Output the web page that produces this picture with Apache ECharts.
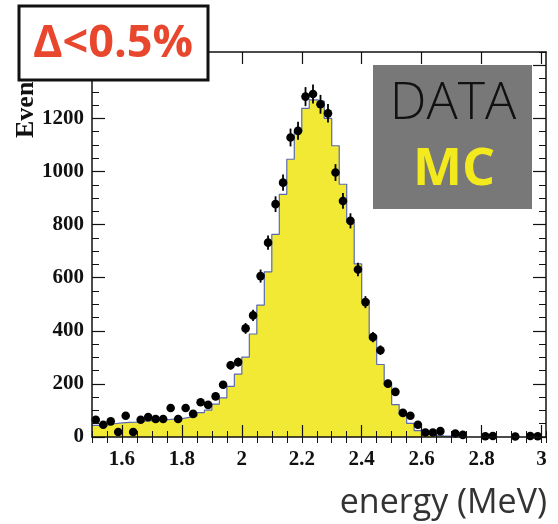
<!DOCTYPE html>
<html><head><meta charset="utf-8">
<script src="https://cdn.jsdelivr.net/npm/echarts@6/dist/echarts.min.js"></script>
<style>html,body{margin:0;padding:0;background:#fff}#c{width:558px;height:524px}</style>
</head><body><div id="c"></div>
<script>
// ---- data ----
const binStart = 1.5;
const binWidth = 0.025;
const mcCounts = [44,45,50,53,55,56,60,62,63,65,67,69,74,79,92,101,124,147,191,237,301,388,497,622,763,914,1046,1150,1238,1270,1265,1200,1097,952,808,652,515,383,273,196,122,84,51,24,10,6,4,3,0,0,0,0,0,0,0,0,0,0,0,0];
const dataCounts = [65,46,59,19,80,19,65,75,68,68,109,68,109,87,131,121,153,197,270,282,409,458,606,732,877,958,1128,1153,1282,1292,1253,1219,996,889,814,631,508,376,327,201,170,91,80,46,17,17,22,null,13,8,null,null,3,4,null,null,2,null,4,3];
const xTickValues = [1.6,1.8,2.0,2.2,2.4,2.6,2.8,3.0];
const yTickValues = [0,200,400,600,800,1000,1200,1400];
const xMin = 1.5, xMax = 3.015, yMin = 0, yMax = 1450;

// ---- build series data ----
let last = mcCounts.length - 1;
while (last > 0 && mcCounts[last] === 0) last--;
const histLine = [];
for (let i = 0; i <= last; i++) histLine.push([binStart + i * binWidth, mcCounts[i]]);
histLine.push([binStart + (last + 1) * binWidth, mcCounts[last]]);
histLine.push([binStart + (last + 1) * binWidth, 0]);

const points = [];
dataCounts.forEach((v, i) => { if (v !== null) points.push([binStart + (i + 0.5) * binWidth, v]); });

const labelFont = {fontFamily: 'Liberation Serif', fontWeight: 'bold', fontSize: 21, color: '#111'};
const axLine = {show: true, onZero: false, lineStyle: {color: '#111', width: 1.5}};

function xAx(pos, major, withLabels) {
  const a = {type: 'value', position: pos, min: xMin, max: xMax, z: 10,
    axisLine: axLine, splitLine: {show: false}};
  if (major) {
    a.axisTick = {show: true, inside: true, length: 12, lineStyle: {color: '#111', width: 1.2}, customValues: xTickValues};
    a.axisLabel = withLabels ? Object.assign({show: true, margin: 12, customValues: xTickValues,
      formatter: v => String(+v.toFixed(1))}, labelFont) : {show: false};
  } else {
    a.interval = 0.05;
    a.axisLine = {show: false};
    a.axisTick = {show: true, inside: true, length: 6, lineStyle: {color: '#111', width: 1}};
    a.axisLabel = {show: false};
  }
  return a;
}
function yAx(pos, major, withLabels) {
  const a = {type: 'value', position: pos, min: yMin, max: yMax, z: 10,
    axisLine: axLine, splitLine: {show: false}};
  if (major) {
    a.axisTick = {show: true, inside: true, length: 13, lineStyle: {color: '#111', width: 1.2}, customValues: yTickValues};
    a.axisLabel = withLabels ? Object.assign({show: true, margin: 8, customValues: yTickValues,
      formatter: v => String(Math.round(v))}, labelFont) : {show: false};
  } else {
    a.interval = 50;
    a.axisLine = {show: false};
    a.axisTick = {show: true, inside: true, length: 7, lineStyle: {color: '#111', width: 1}};
    a.axisLabel = {show: false};
  }
  return a;
}

const chart = echarts.init(document.getElementById('c'), null, {renderer: 'canvas'});
chart.setOption({
  animation: false,
  backgroundColor: '#fff',
  grid: {left: 92, right: 12, top: 52, bottom: 87},
  xAxis: [xAx('bottom', true, true), xAx('top', true, false), xAx('bottom', false), xAx('top', false)],
  yAxis: [yAx('left', true, true), yAx('right', true, false), yAx('left', false), yAx('right', false)],
  series: [
    {type: 'line', data: histLine, step: 'end', symbol: 'none', xAxisIndex: 0, yAxisIndex: 0,
     lineStyle: {color: '#5a6ab0', width: 1.2},
     areaStyle: {color: '#f1e934', opacity: 1}, z: 2},
    {type: 'custom', data: points, xAxisIndex: 0, yAxisIndex: 0, z: 3,
     encode: {x: 0, y: 1},
     renderItem: function (params, api) {
       const x = api.value(0), y = api.value(1), e = Math.sqrt(y);
       const c = api.coord([x, y]);
       const t = api.coord([x, y + e]);
       const b = api.coord([x, Math.max(0, y - e)]);
       return {type: 'group', children: [
         {type: 'line', shape: {x1: c[0], y1: t[1], x2: c[0], y2: b[1]}, style: {stroke: '#000', lineWidth: 1.8}},
         {type: 'circle', shape: {cx: c[0], cy: c[1], r: 4.3}, style: {fill: '#000'}}
       ]};
     }}
  ],
  graphic: [
    {type: 'text', x: 26, y: 138, rotation: Math.PI / 2, z: 1,
     style: {text: 'Events', font: 'bold 26px "Liberation Serif"', fill: '#111', textAlign: 'left', textVerticalAlign: 'middle'}},
    {type: 'rect', shape: {x: 19, y: 6, width: 189, height: 74}, z: 100,
     style: {fill: '#fff', stroke: '#111', lineWidth: 3}},
    {type: 'text', x: 113, y: 44, z: 101,
     style: {text: 'Δ<0.5%', font: 'bold 45px "Open Sans"', fill: '#e8462d', textAlign: 'center', textVerticalAlign: 'middle'}},
    {type: 'rect', shape: {x: 373, y: 65, width: 159, height: 144}, z: 100,
     style: {fill: '#787878'}},
    {type: 'text', x: 453, y: 104, z: 101,
     style: {text: 'DATA', font: '300 52px "Open Sans"', fill: '#111', textAlign: 'center', textVerticalAlign: 'middle'}},
    {type: 'text', x: 454, y: 170, z: 101,
     style: {text: 'MC', font: 'bold 52px "Open Sans"', fill: '#f2ea1c', textAlign: 'center', textVerticalAlign: 'middle'}},
    {type: 'text', x: 547, y: 503, z: 101,
     style: {text: 'energy (MeV)', font: '34px "Open Sans"', fill: '#333', textAlign: 'right', textVerticalAlign: 'middle'}}
  ]
});
</script>
</body></html>
